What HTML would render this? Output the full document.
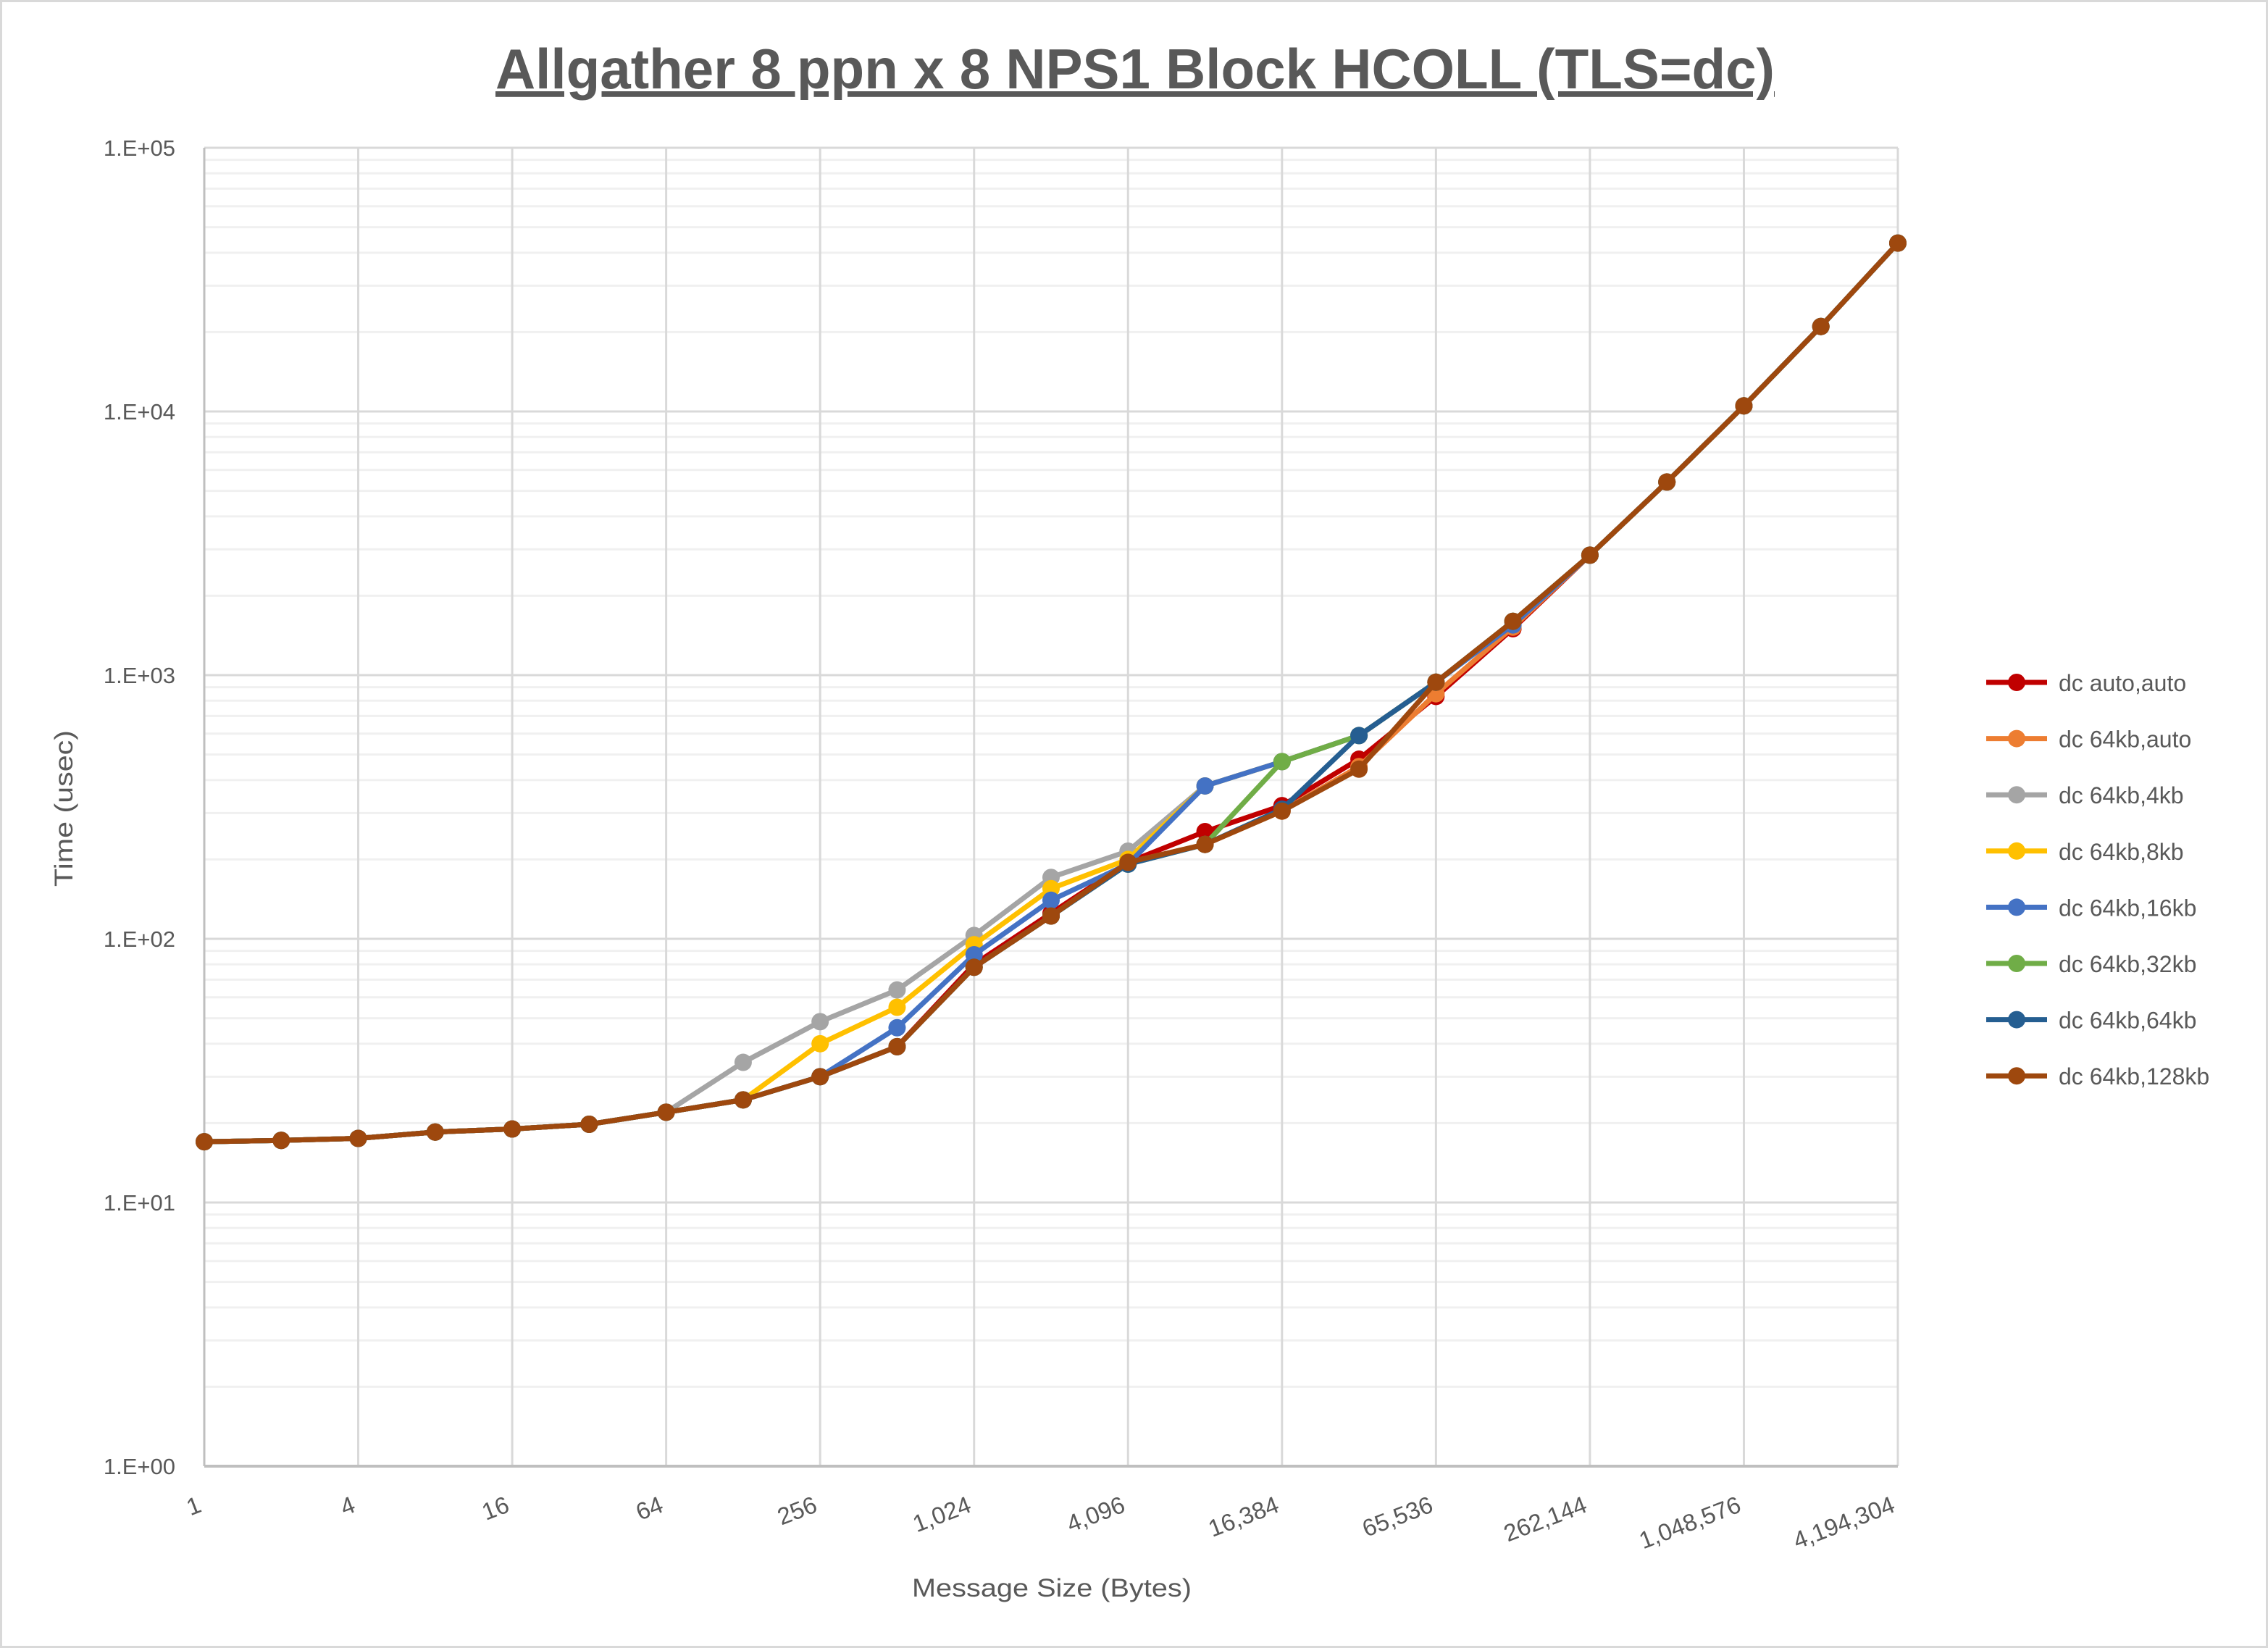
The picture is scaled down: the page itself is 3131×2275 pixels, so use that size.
<!DOCTYPE html>
<html><head><meta charset="utf-8"><style>
html,body{margin:0;padding:0;background:#fff}
svg{display:block}
text{font-family:"Liberation Sans",sans-serif;fill:#595959}
</style></head><body>
<svg id="s" width="3131" height="2275" viewBox="0 0 3131 2275" xmlns="http://www.w3.org/2000/svg">
<rect x="1.5" y="1.5" width="3128" height="2272" fill="#fff" stroke="#d9d9d9" stroke-width="3"/>
<g id="grid"></g>
<g id="series"></g>
<g id="labels"></g>
<text x="1567" y="122" text-anchor="middle" font-size="78" font-weight="bold" textLength="1766" lengthAdjust="spacingAndGlyphs" text-decoration="underline">Allgather 8 ppn x 8 NPS1 Block HCOLL (TLS=dc)</text>
<text x="1452" y="2204" text-anchor="middle" font-size="35" textLength="386" lengthAdjust="spacingAndGlyphs">Message Size (Bytes)</text>
<text transform="translate(100,1116) rotate(-90)" text-anchor="middle" font-size="35" textLength="216" lengthAdjust="spacingAndGlyphs">Time (usec)</text>
</svg>
<script>
var NS="http://www.w3.org/2000/svg";
function el(p,t,a,txt){var e=document.createElementNS(NS,t);for(var k in a)e.setAttribute(k,a[k]);if(txt!=null)e.textContent=txt;p.appendChild(e);return e;}
var L=282,R=2620,T=204,B=2024,D=(B-T)/5,DX=(R-L)/22;
function Y(v){return B-Math.log10(v)*D;}
function X(i){return L+i*DX;}
var g=document.getElementById('grid'),lb=document.getElementById('labels');
for(var d=0;d<5;d++)for(var m=2;m<10;m++){var y=Y(Math.pow(10,d)*m);el(g,'line',{x1:L,x2:R,y1:y,y2:y,stroke:'#f0f0f0','stroke-width':3});}
for(var i=0;i<=22;i+=2){el(g,'line',{x1:X(i),x2:X(i),y1:T,y2:B,stroke:'#d9d9d9','stroke-width':3});}
for(var d=0;d<=5;d++){var y=Y(Math.pow(10,d));el(g,'line',{x1:L,x2:R,y1:y,y2:y,stroke:d==0?'#bfbfbf':'#d9d9d9','stroke-width':d==0?4:3});
 el(lb,'text',{x:242,y:y+11,'text-anchor':'end','font-size':31},'1.E+0'+d);}
el(g,'line',{x1:L,x2:L,y1:T,y2:B,stroke:'#bfbfbf','stroke-width':3});
var xl=['1','4','16','64','256','1,024','4,096','16,384','65,536','262,144','1,048,576','4,194,304'];
for(var k=0;k<xl.length;k++){var x=X(2*k);el(lb,'text',{'text-anchor':'end','font-size':33,transform:'translate('+(x-2)+',2086) rotate(-21)'},xl[k]);}
var base=[17,17.2,17.5,18.5,19,19.8,22,24.5,30,39,78,122,195,228,305,440,940,1600,2850,5400,10500,21000,43500];
function S(o){var a=base.slice();for(var k in o)a[k]=o[k];return a;}
var series=[
 ['dc auto,auto','#C00000',S({10:80,11:125,12:195,13:255,14:320,15:480,16:830,17:1500})],
 ['dc 64kb,auto','#ED7D31',S({15:450,16:850,17:1520})],
 ['dc 64kb,4kb','#A5A5A5',S({7:34,8:48.5,9:64,10:103,11:171,12:215,13:380,14:470,15:590,16:940})],
 ['dc 64kb,8kb','#FFC000',S({8:40,9:55,10:95,11:155,12:200,13:380,14:470,15:590})],
 ['dc 64kb,16kb','#4472C4',S({9:46,10:87,11:140,12:192,13:380,14:470,15:590,17:1550})],
 ['dc 64kb,32kb','#70AD47',S({12:192,14:470,15:590})],
 ['dc 64kb,64kb','#255E91',S({12:192,14:310,15:590})],
 ['dc 64kb,128kb','#9E480E',base]
];
var sg=document.getElementById('series');
series.forEach(function(s,j){
 var pts=s[2].map(function(v,i){return X(i).toFixed(1)+','+Y(v).toFixed(1)}).join(' ');
 el(sg,'polyline',{points:pts,fill:'none',stroke:s[1],'stroke-width':7,'stroke-linejoin':'round'});
 s[2].forEach(function(v,i){el(sg,'circle',{cx:X(i),cy:Y(v),r:12,fill:s[1]});});
 var ly=942+j*77.6;
 el(lb,'line',{x1:2742,x2:2826,y1:ly,y2:ly,stroke:s[1],'stroke-width':7});
 el(lb,'circle',{cx:2784,cy:ly,r:12,fill:s[1]});
 el(lb,'text',{x:2842,y:ly+12,'font-size':32},s[0]);
});
</script>
</body></html>
